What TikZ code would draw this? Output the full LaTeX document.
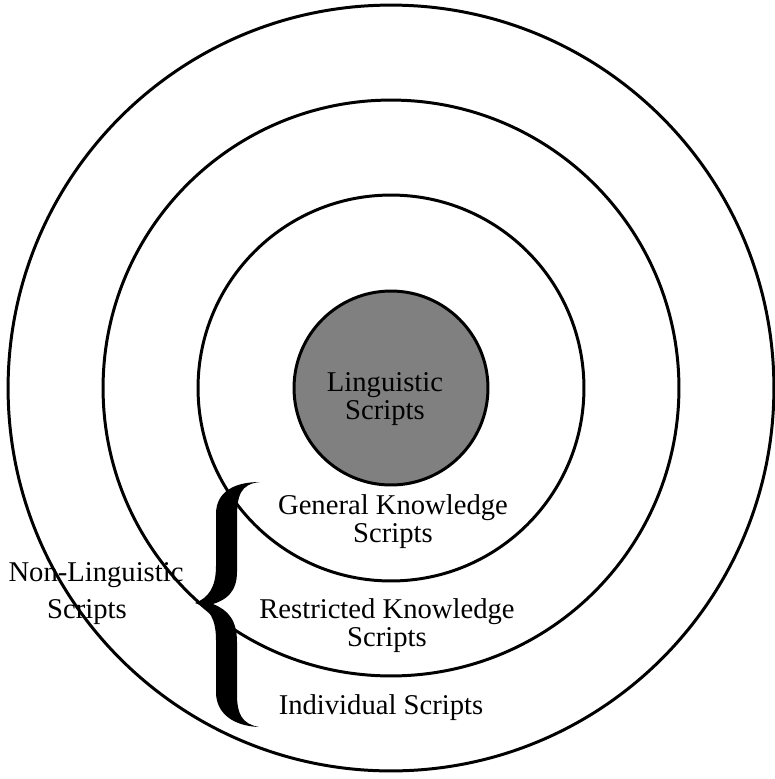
\documentclass[tikz,border=0pt]{standalone}
\usepackage{fontspec}
\setmainfont{Liberation Serif}
\usepackage{tikz}
\usepackage{xcolor}

\tikzset{
  ring/.style={line width=1.7pt},
  lbl/.style={align=center, inner sep=0pt, font=\fontsize{16.3}{15.9}\selectfont}
}

\begin{document}
\begin{tikzpicture}[x=0.02cm,y=-0.02cm]
\useasboundingbox (0,0) rectangle (775,779);
\coordinate (O) at (391,388);
% rings
\draw[ring] (O) circle [radius=7.66cm];
\draw[ring] (O) circle [radius=5.76cm];
\draw[ring] (O) circle [radius=3.86cm];
\draw[ring,fill=black!50] (O) circle [radius=1.94cm];
% labels inside the rings
\node[lbl] (ling) at (385,399) {Linguistic\\Scripts};
\node[lbl] (gen) at (393,522) {General Knowledge\\Scripts};
\node[lbl] (restr) at (387,626) {Restricted Knowledge\\Scripts};
\node[lbl] (indiv) at (381,708) {Individual Scripts};
% label left of the brace
\node[lbl] (nonling) at (96,575) {Non-Linguistic};
\node[lbl] (nonscr) at (87,612) {Scripts};
% the brace
\fill (260,482) .. controls (240,484) and (237,496) .. (237,518) -- (237,572)
  .. controls (237,592) and (226,600) .. (213,604)
  .. controls (228,610) and (237,620) .. (237,642) -- (237,694)
  .. controls (237,714) and (242,724) .. (259,727)
  .. controls (234,726) and (216,714) .. (216,692) -- (216,640)
  .. controls (216,620) and (210,608) .. (195,603)
  .. controls (208,598) and (216,588) .. (216,566) -- (216,514)
  .. controls (216,492) and (234,482) .. (260,482) -- cycle;
\end{tikzpicture}
\end{document}
